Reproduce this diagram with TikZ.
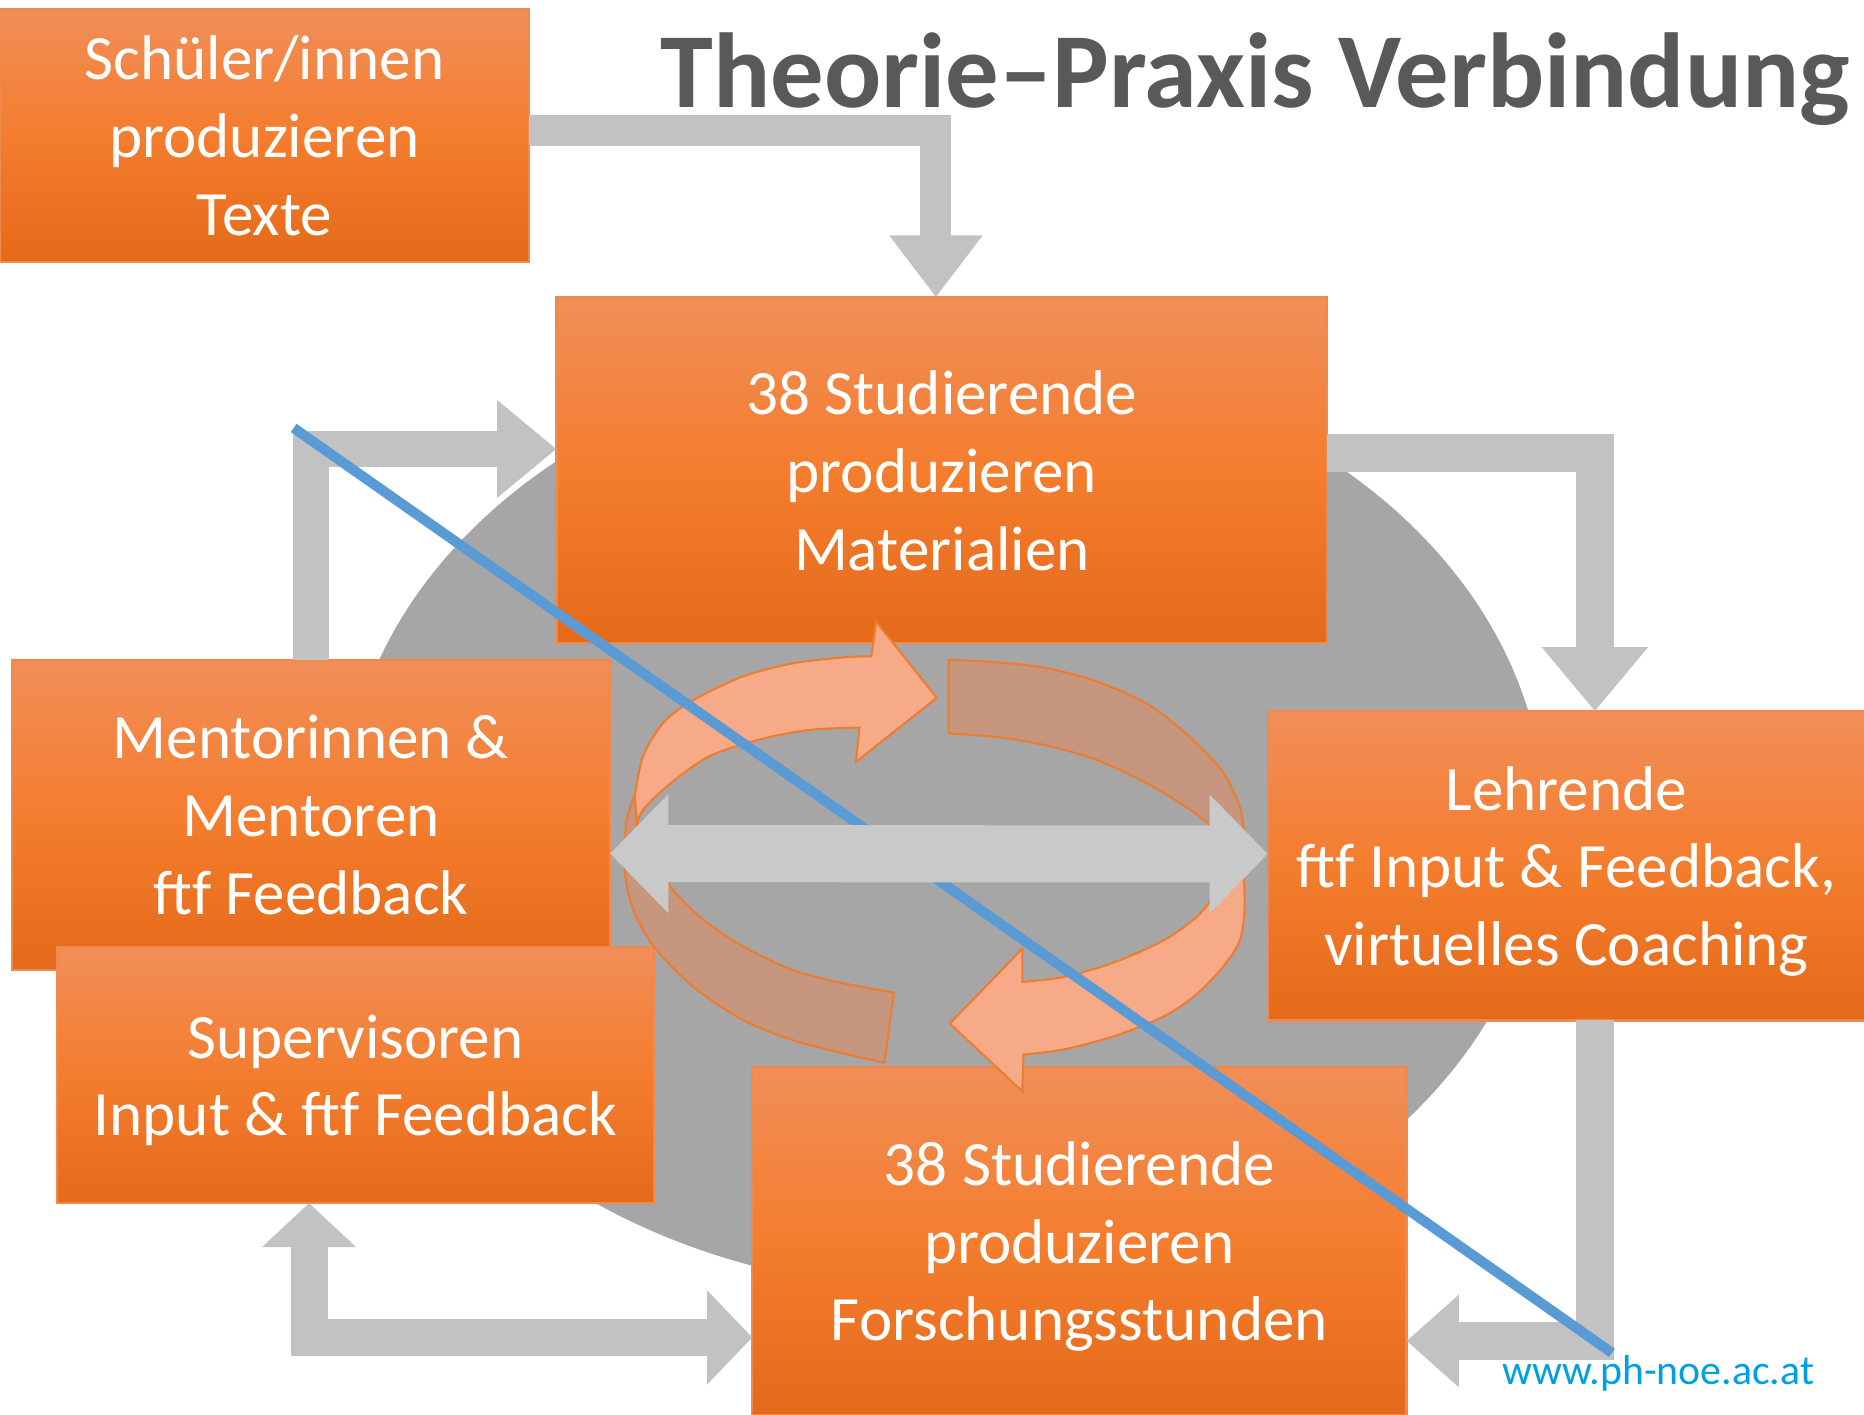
\documentclass[tikz,border=0pt]{standalone}
\usepackage{fontspec}
\setmainfont{Carlito}
\usepackage{tikz}
\usetikzlibrary{arrows.meta, positioning, calc}

\definecolor{boxtop}{HTML}{F18E58}
\definecolor{boxmid}{HTML}{F47D2E}
\definecolor{boxbot}{HTML}{E46A19}
\definecolor{boxline}{HTML}{F0894C}
\definecolor{titlegray}{HTML}{595959}
\definecolor{ovalgray}{HTML}{A6A6A6}
\definecolor{flowgray}{HTML}{C2C2C2}
\definecolor{flowlight}{HTML}{C9C9C9}
\definecolor{arcfront}{HTML}{F6AA88}
\definecolor{arcback}{HTML}{C6967E}
\definecolor{arcline}{HTML}{ED7D31}
\definecolor{strikeblue}{HTML}{5B9BD5}
\definecolor{urlblue}{HTML}{009FE3}

\newcommand{\boxfont}{\fontsize{15.1}{18.6}\selectfont}
\newcommand{\titlefont}{\fontsize{25.5}{30}\selectfont\bfseries}

\begin{document}
\begin{tikzpicture}[x=0.01cm, y=-0.01cm]
\tikzstyle{block} = [rectangle, draw=boxline, line width=0.5pt, top color=boxtop, bottom color=boxbot, middle color=boxmid, text=white, align=center, font=\boxfont, text depth=0pt, inner sep=0pt, outer sep=0pt]
\tikzstyle{flow} = [draw=flowgray, line join=miter]
\tikzstyle{front} = [fill=arcfront, draw=arcline, line width=0.5pt, line join=miter]
\tikzstyle{back} = [fill=arcback, draw=arcline, line width=0.5pt]

\path[use as bounding box, fill=white] (0,0) rectangle (1568,1190);

\fill[ovalgray] (794,690) ellipse [x radius=5.05cm, y radius=3.95cm];

\node (schueler) [block, minimum width=4.45cm, minimum height=2.12cm] at (222.5,114) {Schüler/innen\\produzieren\\Texte};
\node (material) [block, minimum width=6.48cm, minimum height=2.91cm, below right=0.30cm and 0.23cm of schueler] {38 Studierende\\produzieren\\Materialien};
\node (mentor) [block, minimum width=5.03cm, minimum height=2.61cm] at (261.5,685.5) {Mentorinnen \&\\Mentoren\\ftf Feedback};
\node (superv) [block, minimum width=5.02cm, minimum height=2.15cm] at (299,904.5) {Supervisoren\\Input \& ftf Feedback};
\node (lehrende) [block, minimum width=5.02cm, minimum height=2.60cm, below right=0.57cm and -0.50cm of material] {Lehrende\\ftf Input \& Feedback,\\virtuelles Coaching};
\node (forsch) [block, minimum width=5.50cm, minimum height=2.92cm] at (908,1044) {38 Studierende\\produzieren\\Forschungsstunden};

\draw[flow, line width=0.26cm, -{Triangle[width=0.75cm, length=0.52cm]}] ($(schueler.east)+(0,-4)$) -| ($(material.north)+(-5,0)$);
\draw[flow, line width=0.30cm, -{Triangle[width=0.79cm, length=0.50cm]}] (mentor.north) |- ($(material.west)+(0,-18)$);
\draw[flow, line width=0.32cm, -{Triangle[width=0.86cm, length=0.54cm]}] ($(material.east)+(0,-15)$) -| ($(lehrende.north)+(24,0)$);
\draw[flow, line width=0.32cm, -{Triangle[width=0.75cm, length=0.44cm]}] ($(lehrende.south)+(24,0)$) |- ($(forsch.east)+(0,84)$);
\draw[flow, line width=0.31cm, {Triangle[width=0.77cm, length=0.37cm]}-{Triangle[width=0.77cm, length=0.38cm]}] ($(superv.south)+(-39,0)$) |- ($(forsch.west)+(0,81)$);

\path[back] plot[smooth] coordinates {(798,555) (838,557) (880,562) (922,573) (965,592) (1001,620) (1029,650) (1043,679) (1047,707) (1047,735)} -- plot[smooth] coordinates {(1029,712) (1018,695) (1001,681) (965,659) (922,639) (880,627) (838,620) (798,617)} -- cycle;
\path[back] plot[smooth] coordinates {(534,668) (527,690) (526,709) (526,737) (533,766) (550,796) (583,830) (625,858) (667,875) (709,886) (744,894)} -- plot[smooth] coordinates {(752,835) (709,827) (667,816) (625,796) (592,774) (564,746) (541,709) (536,690)} -- cycle;
\path[front] plot[smooth] coordinates {(534,670) (541,636) (558,608) (583,589) (625,569) (667,558) (709,553) (733,552)} -- (737,523) -- (788,587) -- (720,641) -- plot[smooth] coordinates {(723,612) (681,614) (639,622) (597,636) (564,659) (541,681) (536,693)} -- cycle;
\path[front] plot[smooth] coordinates {(1046,735) (1047,763) (1043,791) (1029,813) (1007,836) (979,855) (936,872) (894,883) (861,887)} -- (860,918) -- (799,861) -- (860,798) -- plot[smooth] coordinates {(860,826) (894,822) (936,810) (979,791) (1007,771) (1023,751) (1029,740)} -- cycle;

\coordinate (strikeA) at (247,360);
\coordinate (strikeB) at (1356,1138);
\draw[strikeblue, line width=0.085cm] (strikeA) -- (strikeB);

\draw[draw=flowlight, line width=0.48cm, line join=miter, {Triangle[width=0.97cm, length=0.49cm]}-{Triangle[width=0.97cm, length=0.49cm]}] ($(mentor.east)+(0,32.5)$) -- ($(lehrende.west)+(0,-10)$);

\node (title) [anchor=base east, inner sep=0pt, font=\titlefont, text=titlegray] at (1557,90) {Theorie–Praxis Verbindung};
\node (web) [anchor=base west, inner sep=0pt, font=\fontsize{10}{12}\selectfont, text=urlblue] at (1263,1165) {www.ph-noe.ac.at};

\end{tikzpicture}
\end{document}
